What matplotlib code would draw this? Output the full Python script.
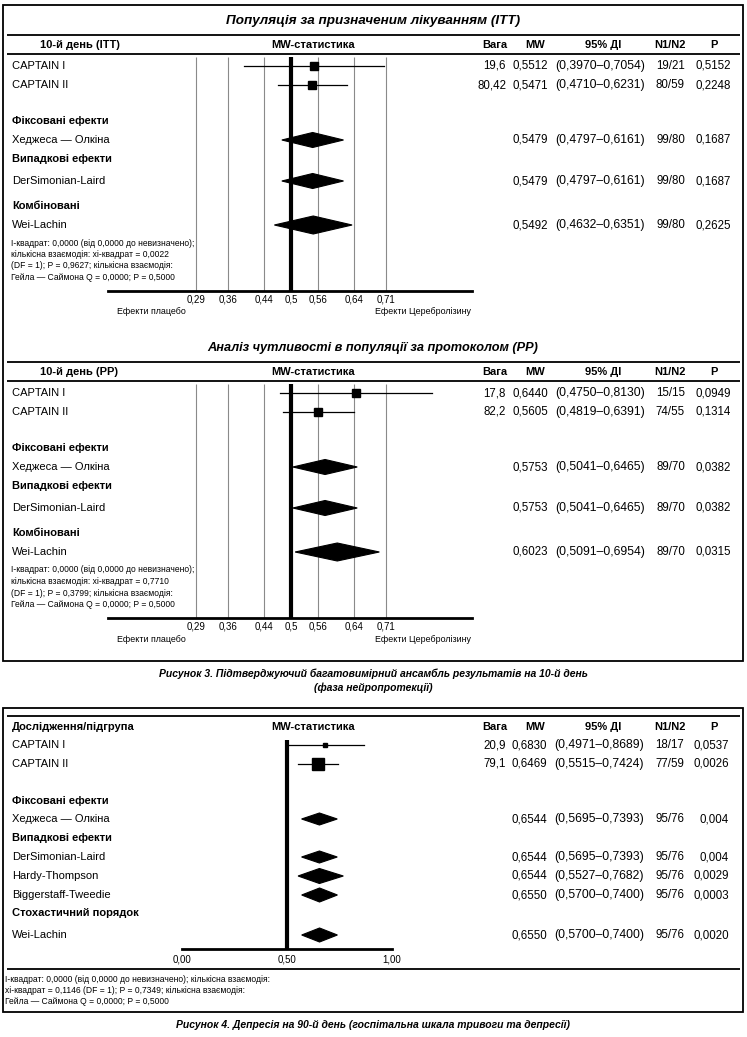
import matplotlib
matplotlib.use("Agg")
import matplotlib.pyplot as plt
from matplotlib.patches import Rectangle
from matplotlib import font_manager as fm

plt.rcParams['font.family'] = ['Liberation Sans', 'DejaVu Sans']

# ---------------- DATA ----------------
studies = ["CAPTAIN I", "CAPTAIN II"]

# Figure 3, ITT
itt_weight = [19.6, 80.42]
itt_mw = [0.5512, 0.5471]
itt_lo = [0.3970, 0.4710]
itt_hi = [0.7054, 0.6231]
itt_n = ["19/21", "80/59"]
itt_p = ["0,5152", "0,2248"]
itt_pool_names = ["Хеджеса — Олкіна", "DerSimonian-Laird", "Wei-Lachin"]
itt_pool_mw = [0.5479, 0.5479, 0.5492]
itt_pool_lo = [0.4797, 0.4797, 0.4632]
itt_pool_hi = [0.6161, 0.6161, 0.6351]
itt_pool_n = ["99/80", "99/80", "99/80"]
itt_pool_p = ["0,1687", "0,1687", "0,2625"]

# Figure 3, PP
pp_weight = [17.8, 82.2]
pp_mw = [0.6440, 0.5605]
pp_lo = [0.4750, 0.4819]
pp_hi = [0.8130, 0.6391]
pp_n = ["15/15", "74/55"]
pp_p = ["0,0949", "0,1314"]
pp_pool_names = ["Хеджеса — Олкіна", "DerSimonian-Laird", "Wei-Lachin"]
pp_pool_mw = [0.5753, 0.5753, 0.6023]
pp_pool_lo = [0.5041, 0.5041, 0.5091]
pp_pool_hi = [0.6465, 0.6465, 0.6954]
pp_pool_n = ["89/70", "89/70", "89/70"]
pp_pool_p = ["0,0382", "0,0382", "0,0315"]

# Figure 4
d90_weight = [20.9, 79.1]
d90_mw = [0.6830, 0.6469]
d90_lo = [0.4971, 0.5515]
d90_hi = [0.8689, 0.7424]
d90_n = ["18/17", "77/59"]
d90_p = ["0,0537", "0,0026"]
d90_pool_names = ["Хеджеса — Олкіна", "DerSimonian-Laird", "Hardy-Thompson",
                  "Biggerstaff-Tweedie", "Wei-Lachin"]
d90_pool_mw = [0.6544, 0.6544, 0.6544, 0.6550, 0.6550]
d90_pool_lo = [0.5695, 0.5695, 0.5527, 0.5700, 0.5700]
d90_pool_hi = [0.7393, 0.7393, 0.7682, 0.7400, 0.7400]
d90_pool_n = ["95/76"] * 5
d90_pool_p = ["0,004", "0,004", "0,0029", "0,0003", "0,0020"]

f3_ticks = [0.29, 0.36, 0.44, 0.5, 0.56, 0.64, 0.71]
f3_ticklabels = ["0,29", "0,36", "0,44", "0,5", "0,56", "0,64", "0,71"]
f4_ticks = [0.0, 0.5, 1.0]
f4_ticklabels = ["0,00", "0,50", "1,00"]


# ---------------- FONTS ----------------
def has_font(name):
    try:
        fm.findfont(fm.FontProperties(family=name), fallback_to_default=False)
        return True
    except Exception:
        return False


if has_font('Liberation Sans Narrow'):
    NARROW = ['Liberation Sans Narrow', 'Liberation Sans', 'DejaVu Sans']
    CAP_FS = 8.3
    FSF = 7.3
else:
    NARROW = ['Liberation Sans', 'DejaVu Sans']
    CAP_FS = 7.5
    FSF = 6.15

# ---------------- LAYOUT ----------------
W, H = 747, 1037
fig = plt.figure(figsize=(W / 100, H / 100), dpi=100)
bg = fig.add_axes([0, 0, 1, 1])
bg.set_xlim(0, W)
bg.set_ylim(H, 0)
bg.axis('off')

FS = 8.0      # body text
FSN = 8.3     # numbers
FSCI = 8.7    # confidence intervals


def fmt(v, d=4):
    return f"{v:.{d}f}".replace('.', ',')


def fmtw(v):
    return f"{v:g}".replace('.', ',')


def txt(x, y, s, ha='left', size=FS, **kw):
    bg.text(x, y, s, ha=ha, va='center', fontsize=size, **kw)


def hrule(y, x0=7, x1=740, lw=1.3):
    bg.plot([x0, x1], [y, y], color='black', lw=lw, solid_capstyle='butt')


def forest_axes(x0, x1, ytop, ybot, xlim):
    ax = fig.add_axes([x0 / W, 1 - ybot / H, (x1 - x0) / W, (ybot - ytop) / H])
    ax.set_xlim(*xlim)
    ax.set_ylim(ybot, ytop)
    ax.patch.set_visible(False)
    for s in ['top', 'left', 'right']:
        ax.spines[s].set_visible(False)
    ax.spines['bottom'].set_linewidth(2.0)
    ax.set_yticks([])
    return ax


def diamond(ax, lo, m, hi, y, h):
    ax.fill([lo, m, hi, m], [y, y - h / 2, y, y + h / 2], facecolor='black',
            edgecolor='black', lw=0.8, zorder=4)


cols = dict(w=506, mw=548, ci=600, n=685, p=731)
hdr = dict(w=495, mw=535, ci=603, n=670, p=714)


def header(y, first, first_x):
    txt(first_x, y, first, weight='bold')
    txt(313, y, "MW-статистика", ha='center', weight='bold')
    txt(hdr['w'], y, "Вага", ha='center', weight='bold')
    txt(hdr['mw'], y, "MW", ha='center', weight='bold')
    txt(hdr['ci'], y, "95% ДІ", ha='center', weight='bold')
    txt(hdr['n'], y, "N1/N2", ha='center', weight='bold')
    txt(hdr['p'], y, "P", ha='center', weight='bold')


def values(y, mw, lo, hi, n, p, w=None, c=cols):
    if w is not None:
        txt(c['w'], y, fmtw(w), ha='right', size=FSN)
    txt(c['mw'], y, fmt(mw), ha='right', size=FSN)
    txt(c['ci'], y, f"({fmt(lo)}–{fmt(hi)})", ha='center', size=FSCI)
    txt(c['n'], y, n, ha='right', size=FSN)
    txt(c['p'], y, p, ha='right', size=FSN)


def fig3_panel(title, first, y0, weight, mw, lo, hi, n, p,
               pnames, pmw, plo, phi, pn, pp, foot, title_fs):
    # y0 = title y
    txt(373, y0, title, ha='center', size=title_fs, style='italic', weight='bold')
    hrule(y0 + 14)
    header(y0 + 24, first, 40)
    hrule(y0 + 33)
    rows = [y0 + 45, y0 + 64]
    grp = {"Фіксовані ефекти": y0 + 100, "Випадкові ефекти": y0 + 138, "Комбіновані": y0 + 185}
    prow = [y0 + 119, y0 + 160, y0 + 204]
    ph = [15, 15, 18]
    axis_y = y0 + 270
    ax = forest_axes(108, 472, y0 + 36, axis_y, (0.0951, 0.9004))
    ax.vlines([t for t in f3_ticks if t != 0.5], y0 + 36, axis_y, color='#8a8a8a', lw=0.8,
              zorder=1)
    ax.vlines(0.5, y0 + 36, axis_y, color='black', lw=3.0, zorder=3)
    ax.set_xticks(f3_ticks, f3_ticklabels)
    ax.tick_params(axis='x', length=0, pad=2.5, labelsize=7.0)
    for i, s in enumerate(studies):
        txt(12, rows[i], s)
        ax.plot([lo[i], hi[i]], [rows[i], rows[i]], color='black', lw=0.9, zorder=4)
        ax.plot(mw[i], rows[i], marker='s', color='black', ms=6.2, zorder=5)
        values(rows[i], mw[i], lo[i], hi[i], n[i], p[i], weight[i])
    for g, y in grp.items():
        txt(12, y, g, weight='bold')
    for i, nm in enumerate(pnames):
        txt(12, prow[i], nm)
        diamond(ax, plo[i], pmw[i], phi[i], prow[i], ph[i])
        values(prow[i], pmw[i], plo[i], phi[i], pn[i], pp[i])
    for k, line in enumerate(foot):
        txt(11, y0 + 222 + k * 11.5, line, size=FSF, family=NARROW)
    txt(117, axis_y + 21, "Ефекти плацебо", size=6.4)
    txt(471, axis_y + 21, "Ефекти Церебролізину", ha='right', size=6.4)


# outer boxes
bg.add_patch(Rectangle((3, 5), 739.5, 656, fill=False, lw=1.3, color='black'))
bg.add_patch(Rectangle((3, 708), 739.5, 304, fill=False, lw=1.3, color='black'))

fig3_panel("Популяція за призначеним лікуванням (ITT)", "10-й день (ITT)", 21,
           itt_weight, itt_mw, itt_lo, itt_hi, itt_n, itt_p,
           itt_pool_names, itt_pool_mw, itt_pool_lo, itt_pool_hi, itt_pool_n, itt_pool_p,
           ["I-квадрат: 0,0000 (від 0,0000 до невизначено);",
            "кількісна взаємодія: хі-квадрат = 0,0022",
            "(DF = 1); P = 0,9627; кількісна взаємодія:",
            "Гейла — Саймона Q = 0,0000; P = 0,5000"], 9.7)

fig3_panel("Аналіз чутливості в популяції за протоколом (PP)", "10-й день (PP)", 348,
           pp_weight, pp_mw, pp_lo, pp_hi, pp_n, pp_p,
           pp_pool_names, pp_pool_mw, pp_pool_lo, pp_pool_hi, pp_pool_n, pp_pool_p,
           ["I-квадрат: 0,0000 (від 0,0000 до невизначено);",
            "кількісна взаємодія: хі-квадрат = 0,7710",
            "(DF = 1); P = 0,3799; кількісна взаємодія:",
            "Гейла — Саймона Q = 0,0000; P = 0,5000"], 9.2)

txt(373, 674, "Рисунок 3. Підтверджуючий багатовимірний ансамбль результатів на 10-й день",
    ha='center', size=CAP_FS, weight='bold', style='italic', family=NARROW)
txt(373, 688, "(фаза нейропротекції)", ha='center', size=CAP_FS, weight='bold',
    style='italic', family=NARROW)

# ---------------- Figure 4 ----------------
hrule(716)
header(727, "Дослідження/підгрупа", 12)
rows4 = [745, 764]
grp4 = {"Фіксовані ефекти": 801, "Випадкові ефекти": 838, "Стохастичний порядок": 913}
prow4 = [819, 857, 876, 895, 935]
ph4 = [12, 12, 15, 14, 14]
cols4 = dict(w=506, mw=547, ci=599, n=684, p=729)
axis4 = 949
ax4 = forest_axes(182, 392, 735, axis4, (0.0, 1.0))
ax4.vlines(0.5, 740, axis4, color='black', lw=3.0, zorder=3)
ax4.set_xticks(f4_ticks, f4_ticklabels)
ax4.tick_params(axis='x', length=0, pad=4, labelsize=7.0)
sq_sizes = [2.5, 9.0]
for i, s in enumerate(studies):
    txt(12, rows4[i], s)
    ax4.plot([d90_lo[i], d90_hi[i]], [rows4[i], rows4[i]], color='black', lw=0.9, zorder=4)
    ax4.plot(d90_mw[i], rows4[i], marker='s', color='black', ms=sq_sizes[i], zorder=5)
    values(rows4[i], d90_mw[i], d90_lo[i], d90_hi[i], d90_n[i], d90_p[i], d90_weight[i], cols4)
for g, y in grp4.items():
    txt(12, y, g, weight='bold')
for i, nm in enumerate(d90_pool_names):
    txt(12, prow4[i], nm)
    diamond(ax4, d90_pool_lo[i], d90_pool_mw[i], d90_pool_hi[i], prow4[i], ph4[i])
    values(prow4[i], d90_pool_mw[i], d90_pool_lo[i], d90_pool_hi[i], d90_pool_n[i],
           d90_pool_p[i], None, cols4)
hrule(969)
foot4 = ["I-квадрат: 0,0000 (від 0,0000 до невизначено); кількісна взаємодія:",
         "хі-квадрат = 0,1146 (DF = 1); P = 0,7349; кількісна взаємодія:",
         "Гейла — Саймона Q = 0,0000; P = 0,5000"]
for k, line in enumerate(foot4):
    txt(5, 979 + k * 11.5, line, size=FSF, family=NARROW)

txt(373, 1025, "Рисунок 4. Депресія на 90-й день (госпітальна шкала тривоги та депресії)",
    ha='center', size=CAP_FS, weight='bold', style='italic', family=NARROW)

fig.savefig("out.png", dpi=100)
